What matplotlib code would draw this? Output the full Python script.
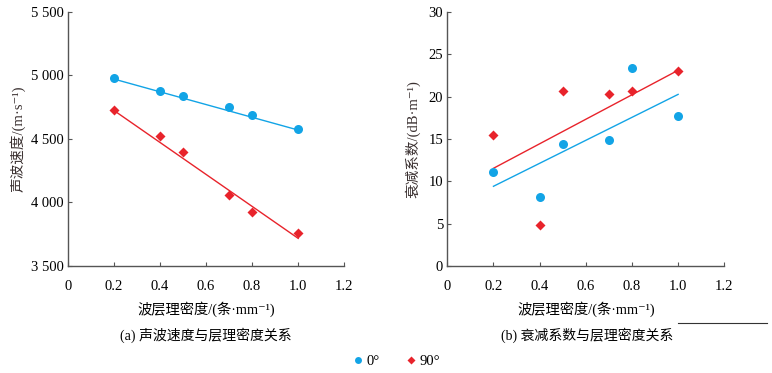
import matplotlib.pyplot as plt
from matplotlib.lines import Line2D
from matplotlib.ticker import FuncFormatter

plt.rcParams['font.family'] = ['Liberation Serif', 'Noto Sans CJK SC', 'DejaVu Sans']
plt.rcParams['font.size'] = 10.5

# datos
densidad = [0.2, 0.4, 0.5, 0.7, 0.8, 1.0]
vel_0 = [4975, 4875, 4839, 4747, 4686, 4574]
vel_90 = [4726, 4521, 4392, 4056, 3923, 3755]
aten_0 = [11.07, 8.21, 14.45, 14.88, 23.4, 17.67]
aten_90 = [15.47, 4.87, 20.66, 20.3, 20.7, 23.05]

# rectas de ajuste (extremos en x=0.2 y x=1.0)
ajuste_x = [0.2, 1.0]
ajuste_vel_0 = [4970, 4568]
ajuste_vel_90 = [4723, 3715]
ajuste_aten_0 = [9.43, 20.26]
ajuste_aten_90 = [11.55, 23.1]

xticks = [0, 0.2, 0.4, 0.6, 0.8, 1.0, 1.2]
azul = '#12a4e6'
rojo = '#e8232b'
gris = '#555555'

fig = plt.figure(figsize=(7.72, 3.73), dpi=100)
ax1 = fig.add_axes([0.0877, 0.2877, 0.3583, 0.6809])
ax2 = fig.add_axes([0.5794, 0.286, 0.3588, 0.6826])


def estilo(ax):
    for s in ['top', 'right']:
        ax.spines[s].set_visible(False)
    for s in ['left', 'bottom']:
        ax.spines[s].set_color(gris)
        ax.spines[s].set_linewidth(1.0)
    ax.tick_params(direction='in', length=3, color=gris, labelsize=10.5)
    ax.tick_params(axis='x', pad=10)
    ax.tick_params(axis='y', pad=3)
    ax.set_xlim(0, 1.2)
    ax.set_xticks(xticks)
    ax.set_xticklabels(['0', '0.2', '0.4', '0.6', '0.8', '1.0', '1.2'])
    ax.set_xlabel('波层理密度/(条·mm⁻¹)', fontsize=10.3, labelpad=6)


# (a) velocidad
ax1.plot(ajuste_x, ajuste_vel_0, color=azul, lw=1)
ax1.plot(ajuste_x, ajuste_vel_90, color=rojo, lw=1)
ax1.plot(densidad, vel_0, 'o', color=azul, ms=6.5, mec='none')
ax1.plot(densidad, vel_90, 'D', color=rojo, ms=5, mec='none')
estilo(ax1)
ax1.set_ylim(3500, 5500)
ax1.set_yticks([3500, 4000, 4500, 5000, 5500])
ax1.yaxis.set_major_formatter(FuncFormatter(lambda v, p: f'{int(v):,}'.replace(',', ' ')))
ax1.set_ylabel('声波速度/(m·s⁻¹)', fontsize=10.5, color='#3a3030', labelpad=4)

# (b) atenuacion
ax2.plot(ajuste_x, ajuste_aten_0, color=azul, lw=1)
ax2.plot(ajuste_x, ajuste_aten_90, color=rojo, lw=1)
ax2.plot(densidad, aten_0, 'o', color=azul, ms=6.5, mec='none')
ax2.plot(densidad, aten_90, 'D', color=rojo, ms=5, mec='none')
estilo(ax2)
ax2.set_ylim(0, 30)
ax2.set_yticks([0, 5, 10, 15, 20, 25, 30])
ax2.set_ylabel('衰减系数/(dB·m⁻¹)', fontsize=10.5, color='#3a3030', labelpad=6)

# titulos de los subgraficos
fig.text(0.266, 0.102, '(a) 声波速度与层理密度关系', ha='center', va='center', fontsize=10)
fig.text(0.760, 0.102, '(b) 衰减系数与层理密度关系', ha='center', va='center', fontsize=10)

# linea suelta abajo a la derecha
fig.add_artist(Line2D([0.878, 0.994], [0.134, 0.134], color='#333333', lw=0.8))

# leyenda
h0 = Line2D([], [], marker='o', ls='none', color=azul, ms=5, mec='none')
h90 = Line2D([], [], marker='D', ls='none', color=rojo, ms=4, mec='none')
fig.legend([h0, h90], ['0°', '90°'], loc='center', bbox_to_anchor=(0.512, 0.03),
           ncol=2, frameon=False, fontsize=10.5, handletextpad=0.1,
           columnspacing=1.6, handlelength=1.0)

fig.savefig('out.png', dpi=100)
